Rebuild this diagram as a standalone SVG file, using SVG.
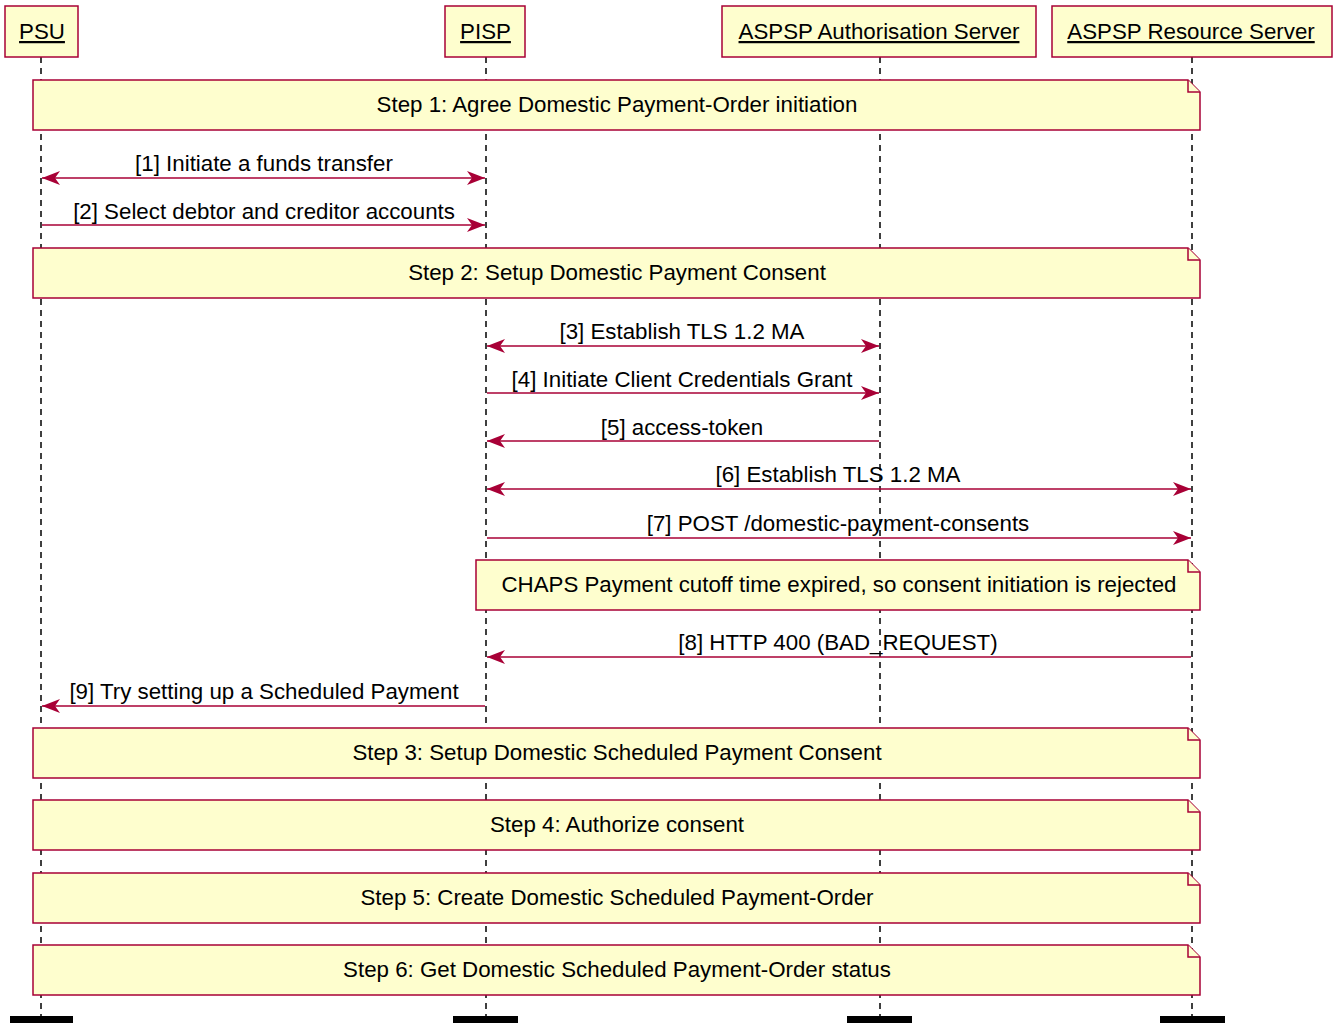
<svg xmlns="http://www.w3.org/2000/svg" width="1335" height="1023" viewBox="0 0 1335 1023">
<style>
.box{fill:#FEFECE;stroke:#A80036;stroke-width:1.5}
.life{stroke:#000;stroke-width:1.5;stroke-dasharray:6,5}
.msg{stroke:#A80036;stroke-width:1.5;fill:none}
.t{font-family:"Liberation Sans",Arial,sans-serif;font-size:22.3px;fill:#000}
.pt{font-family:"Liberation Sans",Arial,sans-serif;font-size:22.3px;fill:#000;text-decoration:underline}
.foot{fill:#000}
</style>
<defs>
<marker id="ah" viewBox="0 0 18 14" refX="18" refY="7" markerWidth="18" markerHeight="14" markerUnits="userSpaceOnUse" orient="auto-start-reverse">
<path d="M0,0 L18,7 L0,14 L5,7 Z" fill="#A80036"/>
</marker>
</defs>
<g id="lifelines">
<line class="life" x1="41" y1="57" x2="41" y2="1016"/>
<line class="life" x1="486" y1="57" x2="486" y2="1016"/>
<line class="life" x1="880" y1="57" x2="880" y2="1016"/>
<line class="life" x1="1192" y1="57" x2="1192" y2="1016"/>
</g>
<g id="psu"><rect class="box" x="5" y="6" width="73" height="51"/><text class="pt" x="42" y="39" text-anchor="middle">PSU</text></g>
<g id="pisp"><rect class="box" x="445" y="6" width="80" height="51"/><text class="pt" x="485.5" y="39" text-anchor="middle">PISP</text></g>
<g id="auth"><rect class="box" x="722" y="6" width="314" height="51"/><text class="pt" x="879" y="39" text-anchor="middle">ASPSP Authorisation Server</text></g>
<g id="res"><rect class="box" x="1052" y="6" width="280" height="51"/><text class="pt" x="1191" y="39" text-anchor="middle">ASPSP Resource Server</text></g>
<g id="footers">
<rect class="foot" x="10" y="1016" width="63" height="7"/>
<rect class="foot" x="453" y="1016" width="65" height="7"/>
<rect class="foot" x="847" y="1016" width="65" height="7"/>
<rect class="foot" x="1160" y="1016" width="65" height="7"/>
</g>
<g id="note1"><path class="box" d="M33,80 H1188 L1200,92 V130 H33 Z"/><path class="box" d="M1188,80 V92 H1200"/><text class="t" x="617" y="112" text-anchor="middle">Step 1: Agree Domestic Payment-Order initiation</text></g>
<g id="note2"><path class="box" d="M33,248 H1188 L1200,260 V298 H33 Z"/><path class="box" d="M1188,248 V260 H1200"/><text class="t" x="617" y="280" text-anchor="middle">Step 2: Setup Domestic Payment Consent</text></g>
<g id="note_chaps"><path class="box" d="M476,560 H1188 L1200,572 V610 H476 Z"/><path class="box" d="M1188,560 V572 H1200"/><text class="t" x="839" y="592" text-anchor="middle">CHAPS Payment cutoff time expired, so consent initiation is rejected</text></g>
<g id="note3"><path class="box" d="M33,728 H1188 L1200,740 V778 H33 Z"/><path class="box" d="M1188,728 V740 H1200"/><text class="t" x="617" y="760" text-anchor="middle">Step 3: Setup Domestic Scheduled Payment Consent</text></g>
<g id="note4"><path class="box" d="M33,800 H1188 L1200,812 V850 H33 Z"/><path class="box" d="M1188,800 V812 H1200"/><text class="t" x="617" y="832" text-anchor="middle">Step 4: Authorize consent</text></g>
<g id="note5"><path class="box" d="M33,873 H1188 L1200,885 V923 H33 Z"/><path class="box" d="M1188,873 V885 H1200"/><text class="t" x="617" y="905" text-anchor="middle">Step 5: Create Domestic Scheduled Payment-Order</text></g>
<g id="note6"><path class="box" d="M33,945 H1188 L1200,957 V995 H33 Z"/><path class="box" d="M1188,945 V957 H1200"/><text class="t" x="617" y="977" text-anchor="middle">Step 6: Get Domestic Scheduled Payment-Order status</text></g>
<g id="connectors">
<line class="msg" x1="42" y1="178" x2="485" y2="178" marker-start="url(#ah)" marker-end="url(#ah)"/>
<text class="t" x="264" y="171" text-anchor="middle">[1] Initiate a funds transfer</text>
<line class="msg" x1="42" y1="225" x2="485" y2="225" marker-end="url(#ah)"/>
<text class="t" x="264" y="219" text-anchor="middle">[2] Select debtor and creditor accounts</text>
<line class="msg" x1="487" y1="346" x2="879" y2="346" marker-start="url(#ah)" marker-end="url(#ah)"/>
<text class="t" x="682" y="339" text-anchor="middle">[3] Establish TLS 1.2 MA</text>
<line class="msg" x1="487" y1="393" x2="879" y2="393" marker-end="url(#ah)"/>
<text class="t" x="682" y="387" text-anchor="middle">[4] Initiate Client Credentials Grant</text>
<line class="msg" x1="879" y1="441" x2="487" y2="441" marker-end="url(#ah)"/>
<text class="t" x="682" y="435" text-anchor="middle">[5] access-token</text>
<line class="msg" x1="487" y1="489" x2="1191" y2="489" marker-start="url(#ah)" marker-end="url(#ah)"/>
<text class="t" x="838" y="482" text-anchor="middle">[6] Establish TLS 1.2 MA</text>
<line class="msg" x1="487" y1="538" x2="1191" y2="538" marker-end="url(#ah)"/>
<text class="t" x="838" y="531" text-anchor="middle">[7] POST /domestic-payment-consents</text>
<line class="msg" x1="1191" y1="657" x2="487" y2="657" marker-end="url(#ah)"/>
<text class="t" x="838" y="650" text-anchor="middle">[8] HTTP 400 (BAD_REQUEST)</text>
<line class="msg" x1="485" y1="706" x2="42" y2="706" marker-end="url(#ah)"/>
<text class="t" x="264" y="699" text-anchor="middle">[9] Try setting up a Scheduled Payment</text>
</g>
</svg>
